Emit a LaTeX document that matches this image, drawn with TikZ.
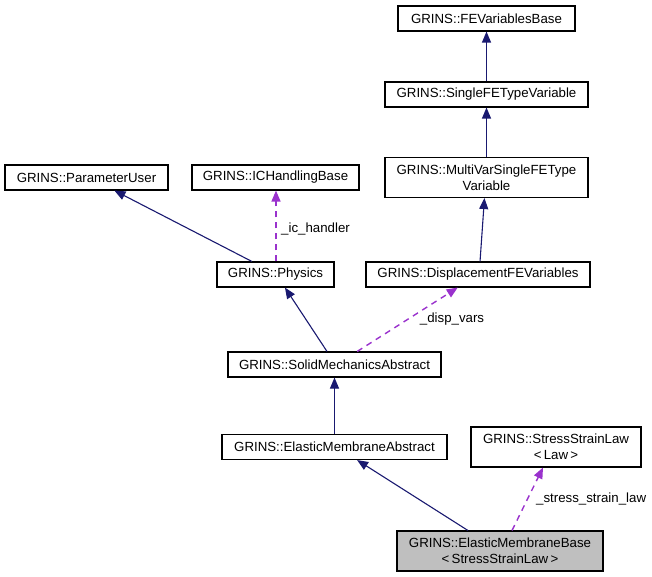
\documentclass[tikz,border=0pt]{standalone}
\usepackage{fontspec}
\setmainfont{Liberation Sans}
\usetikzlibrary{arrows.meta,calc}
\definecolor{edgeblue}{HTML}{191970}
\definecolor{edgepurple}{HTML}{9A32CD}
\definecolor{curfill}{HTML}{BFBFBF}
\begin{document}
\begin{tikzpicture}[x=1pt,y=-1pt,
  every node/.style={font=\fontsize{13.27}{16}\selectfont},
  cls/.style={draw=black,line width=1.1pt,fill=white,inner sep=0pt,align=center,minimum height=25pt},
  cls2/.style={cls,minimum height=40pt},
  inherit/.style={draw=edgeblue,line width=1.1pt,-{Triangle[length=11pt,width=9pt]}},
  usage/.style={draw=edgepurple,line width=1.4pt,dash pattern=on 6pt off 5pt,-{Triangle[length=11pt,width=9pt]}},
  lbl/.style={inner sep=0pt}]
\useasboundingbox (0,0) rectangle (652,577);
\node[cls,minimum width=177pt] (fev) at (486.5,18.5) {GRINS::FEVariablesBase};
\node[cls,minimum width=203pt] (sfe) at (486.5,94.5) {GRINS::SingleFETypeVariable};
\node[cls2,minimum width=203pt] (mv) at (486.5,177.5) {GRINS::MultiVarSingleFEType\\Variable};
\node[cls,minimum width=163pt] (pu) at (86.5,177.5) {GRINS::ParameterUser};
\node[cls,minimum width=167pt] (ich) at (275.5,177.5) {GRINS::ICHandlingBase};
\node[cls,minimum width=117pt] (ph) at (275.5,274.5) {GRINS::Physics};
\node[cls,minimum width=224pt] (dfe) at (478,274.5) {GRINS::DisplacementFEVariables};
\node[cls,minimum width=213pt] (sma) at (334.5,364.5) {GRINS::SolidMechanicsAbstract};
\node[cls,minimum width=225pt] (ema) at (334.5,447) {GRINS::ElasticMembraneAbstract};
\node[cls2,minimum width=170pt] (ssl) at (556,447) {GRINS::StressStrainLaw\\{\textless}\,Law\,{\textgreater}};
\node[cls2,minimum width=206pt,fill=curfill] (emb) at (500,551) {GRINS::ElasticMembraneBase\\{\textless}\,StressStrainLaw\,{\textgreater}};

\draw[inherit] (sfe.north) -- (fev.south);
\draw[inherit] (mv.north) -- (sfe.south);
\draw[inherit] ($(dfe.north west)!0.509!(dfe.north east)$) -- ($(mv.south west)!0.49!(mv.south east)$);
\draw[inherit] ($(ph.north west)!0.3!(ph.north east)$) -- ($(pu.south west)!0.67!(pu.south east)$);
\draw[usage] ($(ph.north)+(0.5,0)$) -- ($(ich.south)+(0.5,0)$);
\node[lbl,anchor=west] (icl) at (281,229) {\_ic\_handler};
\draw[inherit] ($(sma.north west)!0.465!(sma.north east)$) -- ($(ph.south west)!0.58!(ph.south east)$);
\draw[usage] ($(sma.north west)!0.606!(sma.north east)$) -- ($(dfe.south west)!0.41!(dfe.south east)$);
\node[lbl] (dvl) at (452,319) {\_disp\_vars};
\draw[inherit] (ema.north) -- (sma.south);
\draw[inherit] ($(emb.north west)!0.345!(emb.north east)$) -- ($(ema.south west)!0.6!(ema.south east)$);
\draw[usage] ($(emb.north west)!0.558!(emb.north east)$) -- ($(ssl.south west)!0.424!(ssl.south east)$);
\node[lbl,anchor=west] (ssll) at (536,499) {\_stress\_strain\_law};
\end{tikzpicture}
\end{document}
